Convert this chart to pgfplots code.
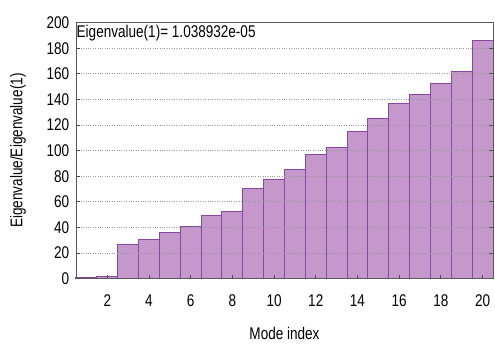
\documentclass[border=0pt]{standalone}
\usepackage{fontspec}
\setmainfont[FakeStretch=0.8]{Liberation Sans}
\usepackage{pgfplots}
\pgfplotsset{compat=1.18}
\definecolor{barfill}{RGB}{196,152,202}
\definecolor{baredge}{RGB}{140,68,165}
\begin{document}
\fontsize{17}{19}\selectfont
\begin{tikzpicture}[x=1bp,y=1bp]
\begin{axis}[
  at={(0,0)}, anchor=south west,
  scale only axis, width=417bp, height=256bp,
  xmin=0.5, xmax=20.5, ymin=0, ymax=200,
  xtick={2,4,...,20}, ytick={0,20,...,200},
  /pgf/number format/assume math mode=true,
  ymajorgrids, grid style={dotted, gray!80, line width=0.8bp},
  axis on top,
  tick align=inside, xtick pos=bottom, ytick pos=both,
  major tick length=4bp,
  tick style={gray!60!black, line width=0.8bp},
  axis line style={gray!70!black, line width=0.8bp},
  xticklabel style={yshift=-10.5bp},
  yticklabel style={xshift=-1bp},
  xlabel={Mode index},
  xlabel style={at={(axis description cs:0.5,0)}, anchor=center, yshift=-54.4bp},
  ylabel={Eigenvalue/Eigenvalue(1)},
  ylabel style={at={(axis description cs:0,0.5)}, anchor=center, rotate=0, yshift=58bp},
  clip=false,
]
\addplot[ybar, bar width=1, bar shift=0, fill=barfill, draw=baredge, line width=1bp] coordinates {
(1,1) (2,2) (3,26.8) (4,30.4) (5,36.4) (6,40.8) (7,49) (8,52.8) (9,70.5) (10,77.8)
(11,85.4) (12,96.6) (13,102.6) (14,115.3) (15,124.7) (16,136.6) (17,144) (18,152.6) (19,162) (20,186)
};
\node[anchor=base west, inner sep=0pt, xshift=0.5bp, yshift=-14.4bp] at (axis description cs:0,1) {Eigenvalue(1)= 1.038932e-05};
\end{axis}
\pgfresetboundingbox
\useasboundingbox (-76,-66.4) rectangle (419,278.6);
\end{tikzpicture}
\end{document}
